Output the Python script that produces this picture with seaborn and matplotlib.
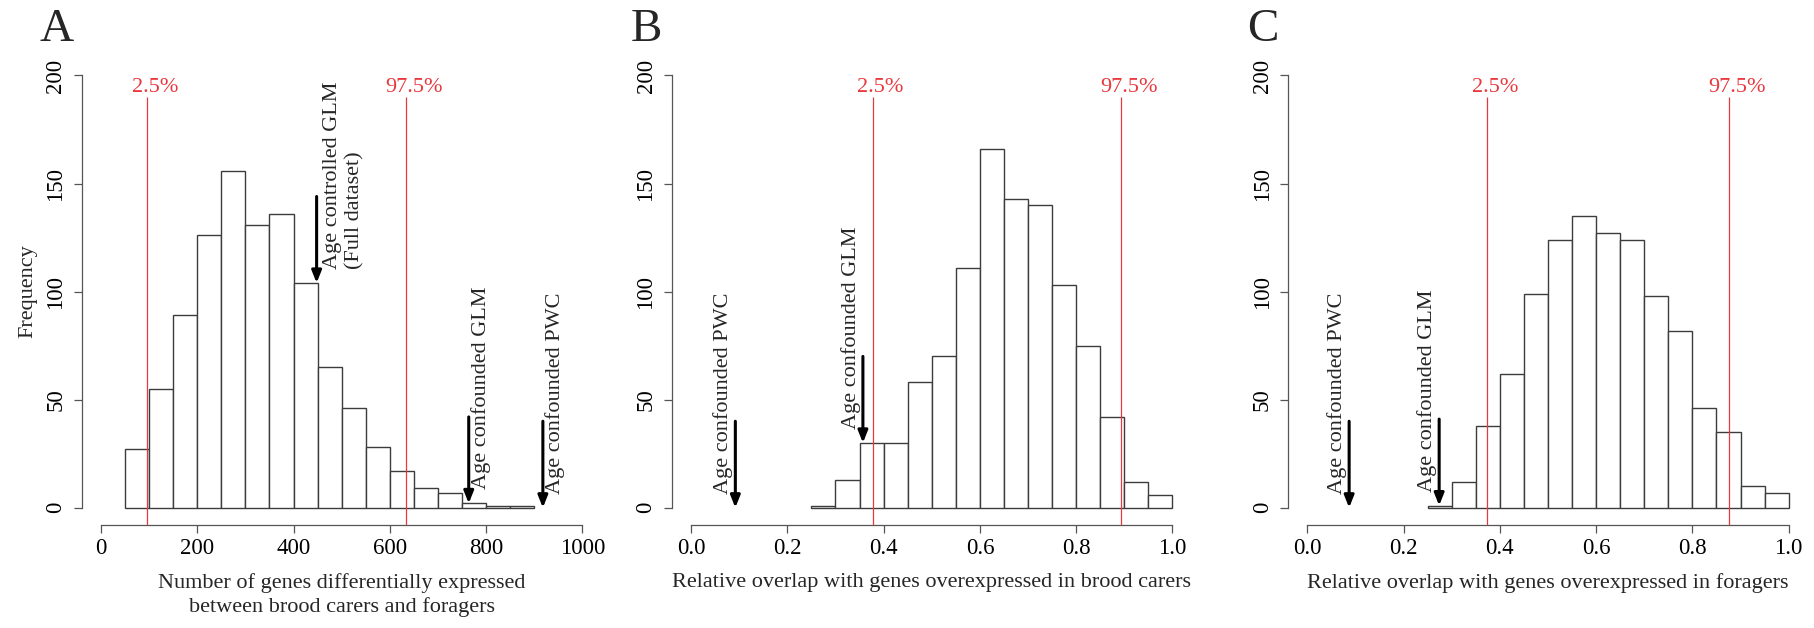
"""Null distributions of DE gene counts and overlaps (panels A-C)."""

import matplotlib

matplotlib.use("Agg")
import matplotlib.pyplot as plt
import numpy as np
import pandas as pd
import seaborn as sns

# ---- data ----
A_EDGES = [50, 100, 150, 200, 250, 300, 350, 400, 450, 500, 550, 600, 650, 700, 750, 800, 850, 900]
A_COUNTS = [27, 55, 89, 126, 156, 131, 136, 104, 65, 46, 28, 17, 9, 7, 2, 1, 1]

OVL_EDGES = [0.25, 0.30, 0.35, 0.40, 0.45, 0.50, 0.55, 0.60, 0.65, 0.70,
             0.75, 0.80, 0.85, 0.90, 0.95, 1.00]
B_COUNTS = [1, 13, 30, 30, 58, 70, 111, 166, 143, 140, 103, 75, 42, 12, 6]
C_COUNTS = [1, 12, 38, 62, 99, 124, 135, 127, 124, 98, 82, 46, 35, 10, 7]

A_QUANT = [95.5, 633.5]
B_QUANT = [0.377, 0.893]
C_QUANT = [0.374, 0.877]

A_MARKS = ["Age controlled GLM\n(Full dataset)", "Age confounded GLM", "Age confounded PWC"]
A_MARK_X = [448, 764, 918]
A_MARK_Y = [104, 2, 0]

BC_MARKS = ["Age confounded PWC", "Age confounded GLM"]
B_MARK_X = [0.092, 0.357]
B_MARK_Y = [0, 30]
C_MARK_X = [0.087, 0.274]
C_MARK_Y = [0, 1]

A_XTICKS = [0, 200, 400, 600, 800, 1000]
OVL_XTICKS = [0.0, 0.2, 0.4, 0.6, 0.8, 1.0]
YTICKS = [0, 50, 100, 150, 200]

RED = "#e8383d"
EDGE = "#3c3c3c"

sns.set_style("ticks")
plt.rcParams["font.family"] = ["Liberation Serif", "DejaVu Serif"]

W, H = 1814, 628
fig = plt.figure(figsize=(W / 100, H / 100), dpi=100)


def panel(left_px, edges, counts, xlim, xticks, xfmt, quants, marks, mark_x, mark_y,
          side, xlabel, letter, ylabel=None):
    top_px, bot_px = 58.2, 525.0
    ax = fig.add_axes([left_px / W, 1 - bot_px / H, 519.9 / W, (bot_px - top_px) / H])
    e = np.asarray(edges, dtype=float)
    df = pd.DataFrame({"mid": (e[:-1] + e[1:]) / 2, "n": counts})
    sns.histplot(data=df, x="mid", weights="n", bins=list(edges), ax=ax, color="white",
                 edgecolor=EDGE, linewidth=1.0, alpha=1.0, fill=True)
    span = xlim[1] - xlim[0]
    ax.set_xlim(xlim[0] - 0.04 * span, xlim[1] + 0.04 * span)
    ax.set_ylim(-8, 208)
    for s in ["top", "right"]:
        ax.spines[s].set_visible(False)
    ax.spines["left"].set_bounds(0, 200)
    ax.spines["bottom"].set_bounds(xlim[0], xlim[1])
    for s in ["left", "bottom"]:
        ax.spines[s].set_color("#555555")
        ax.spines[s].set_linewidth(0.9)
    ax.set_xticks(xticks)
    ax.set_xticklabels([xfmt.format(t) for t in xticks])
    ax.set_yticks(YTICKS)
    ax.set_yticklabels([str(t) for t in YTICKS], rotation=90, va="center")
    ax.tick_params(axis="both", direction="out", length=6, width=0.9, color="#555555",
                   labelsize=16.5, labelcolor="black")
    ax.tick_params(axis="x", pad=3)
    ax.tick_params(axis="y", pad=5)
    ax.set_xlabel("")
    ax.set_ylabel("")

    # percentile lines
    for q, lab in zip(quants, ["2.5%", "97.5%"]):
        ax.vlines(q, -8, 190, color=RED, lw=0.9, zorder=5)
        ax.annotate(lab, xy=(q, 192.5), xytext=(8, 0), textcoords="offset pixels",
                    ha="center", va="baseline", color=RED, fontsize=16, zorder=6)

    # observed values
    for lab, x, y in zip(marks, mark_x, mark_y):
        ax.annotate("", xy=(x, y), xytext=(x, y + 40),
                    arrowprops=dict(arrowstyle="-|>,head_length=0.55,head_width=0.22",
                                    lw=2.2, color="black", mutation_scale=13,
                                    shrinkA=0, shrinkB=0), zorder=7)
        n_lines = lab.count("\n") + 1
        ax.annotate(lab, xy=(x, y + 6.5), xytext=(side * (12 + 15 * (n_lines - 1)), 0),
                    textcoords="offset pixels", rotation=90, ha="center", va="bottom",
                    multialignment="left", linespacing=1.25, fontsize=16, zorder=7)

    ax.annotate(xlabel, xy=(0.5, 0), xycoords="axes fraction", xytext=(0, -48),
                textcoords="offset pixels", ha="center", va="top", fontsize=16,
                linespacing=1.25)
    ax.annotate(letter, xy=(0, 1), xycoords="axes fraction", xytext=(-25, 17),
                textcoords="offset pixels", ha="center", va="baseline", fontsize=34)
    if ylabel:
        ax.annotate(ylabel, xy=(0, 0.5), xycoords="axes fraction", xytext=(-54, 0),
                    textcoords="offset pixels", ha="center", va="center", rotation=90,
                    fontsize=16)
    return ax


panel(81.7, A_EDGES, A_COUNTS, (0, 1000), A_XTICKS, "{:d}", A_QUANT, A_MARKS,
      A_MARK_X, A_MARK_Y, +1,
      "Number of genes differentially expressed\nbetween brood carers and foragers",
      "A", ylabel="Frequency")
panel(671.8, OVL_EDGES, B_COUNTS, (0, 1), OVL_XTICKS, "{:.1f}", B_QUANT, BC_MARKS,
      B_MARK_X, B_MARK_Y, -1,
      "Relative overlap with genes overexpressed in brood carers", "B")
panel(1288.0, OVL_EDGES, C_COUNTS, (0, 1), OVL_XTICKS, "{:.1f}", C_QUANT, BC_MARKS,
      C_MARK_X, C_MARK_Y, -1,
      "Relative overlap with genes overexpressed in foragers", "C")

fig.savefig("out.png", dpi=100)
